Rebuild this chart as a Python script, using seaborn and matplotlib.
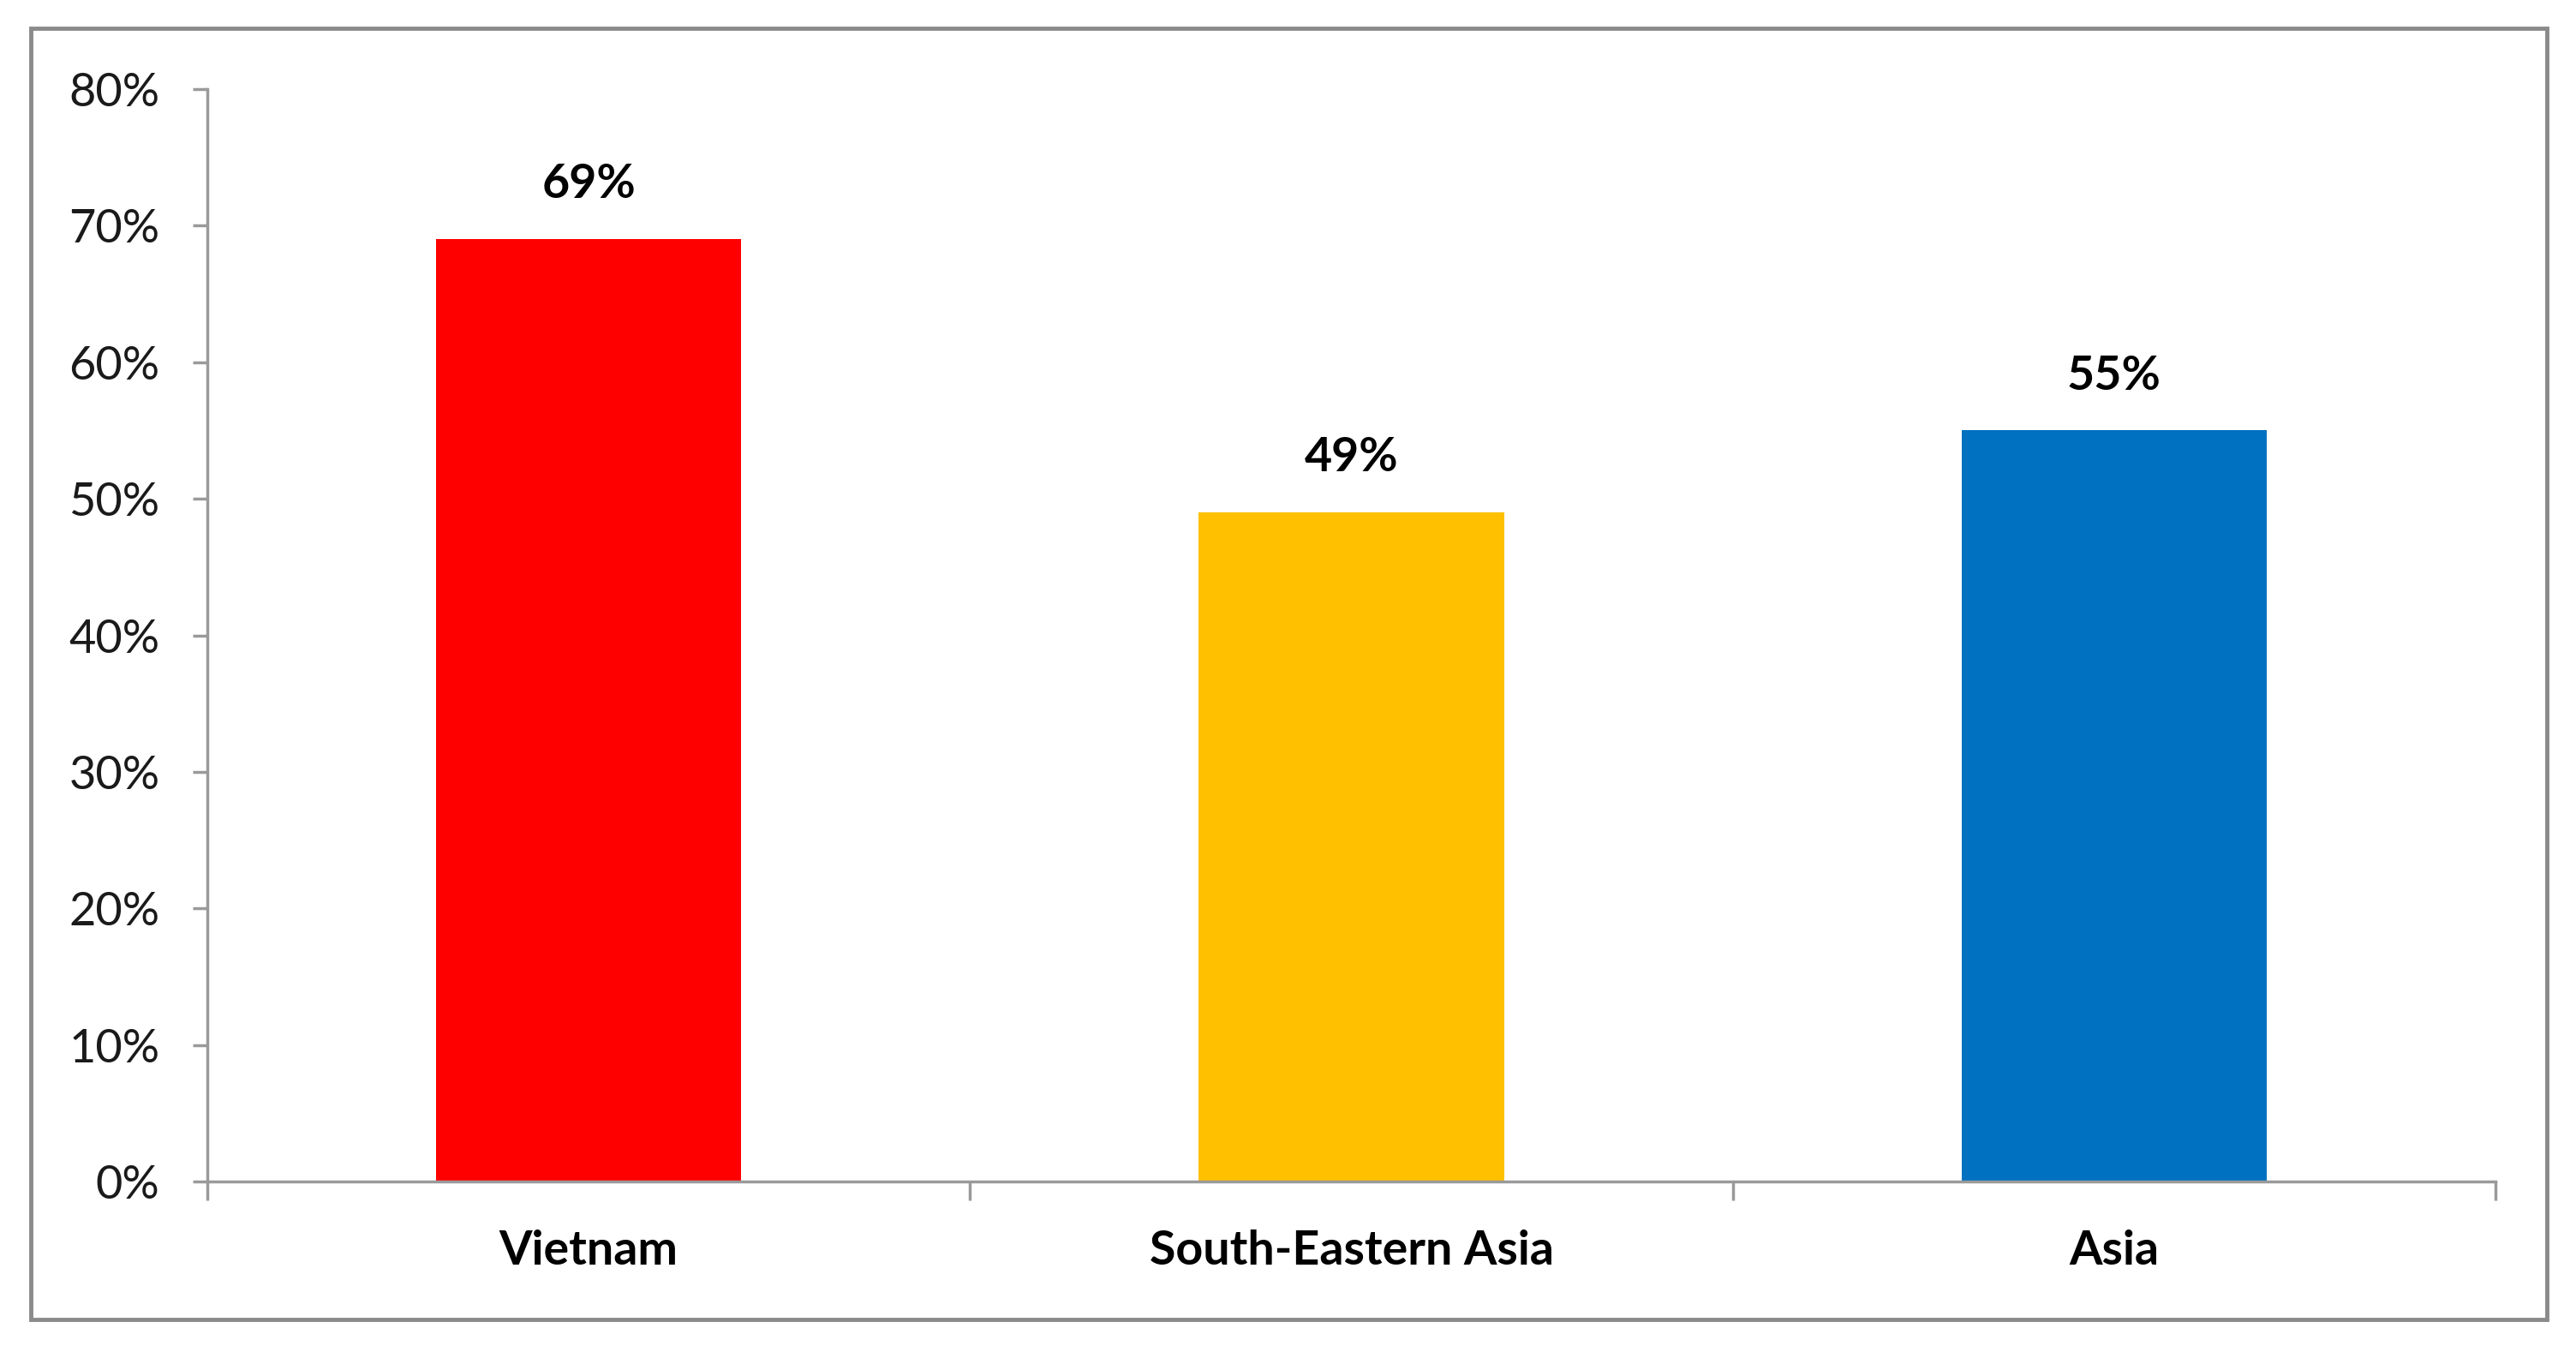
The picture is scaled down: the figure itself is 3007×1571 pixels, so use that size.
import pandas as pd
import seaborn as sns
import matplotlib.pyplot as plt
from matplotlib.patches import Rectangle
from matplotlib.ticker import PercentFormatter, FixedLocator

# data
regions = ["Vietnam", "South-Eastern Asia", "Asia"]
shares = [0.69, 0.49, 0.55]
bar_colors = ["#FF0000", "#FFC000", "#0070C0"]
y_ticks = [0.0, 0.1, 0.2, 0.3, 0.4, 0.5, 0.6, 0.7, 0.8]

df = pd.DataFrame({"region": regions, "share": shares})

sns.set_style("white")
plt.rcParams["font.family"] = ["Lato", "DejaVu Sans"]
plt.rcParams["text.color"] = "black"

fig = plt.figure(figsize=(30.07, 15.71), dpi=100)
ax = fig.add_axes([0.0805, 0.1222, 0.8882, 0.8116])

sns.barplot(data=df, x="region", y="share", hue="region",
            palette=bar_colors, width=0.4, legend=False, ax=ax,
            saturation=1, edgecolor="none")

ax.set_ylim(0, 0.8)
ax.set_xlim(-0.5, len(regions) - 0.5)
ax.yaxis.set_major_locator(FixedLocator(y_ticks))
ax.yaxis.set_major_formatter(PercentFormatter(1.0, decimals=0))
ax.set_xlabel("")
ax.set_ylabel("")

# Excel-like axes: only left/bottom lines, ticks between categories
for side in ["top", "right"]:
    ax.spines[side].set_visible(False)
for side in ["left", "bottom"]:
    ax.spines[side].set_color("#9a9a9a")
    ax.spines[side].set_linewidth(2.5)

ax.set_xticks([i - 0.5 for i in range(len(regions) + 1)], minor=True)
ax.tick_params(axis="x", which="minor", bottom=True, length=16, width=2.5,
               color="#9a9a9a", direction="out")
ax.tick_params(axis="x", which="major", bottom=True, length=0, pad=40,
               labelsize=40, labelcolor="black")
ax.tick_params(axis="y", which="major", left=True, length=12, width=2.5, color="#9a9a9a",
               direction="out", pad=28, labelsize=39, labelcolor="#1a1a1a")
for lbl in ax.get_xticklabels():
    lbl.set_fontweight("bold")

for cont in ax.containers:
    ax.bar_label(cont, labels=[f"{v:.0%}" for v in cont.datavalues],
                 padding=28, fontsize=40, fontweight="bold", color="black")

# outer frame around the whole chart
fig.patches.append(Rectangle((0.012, 0.0197), 0.9767, 0.9593, transform=fig.transFigure,
                             fill=False, edgecolor="#8a8a8a", linewidth=3.5))

fig.savefig("out.png", dpi=100, facecolor="white")
